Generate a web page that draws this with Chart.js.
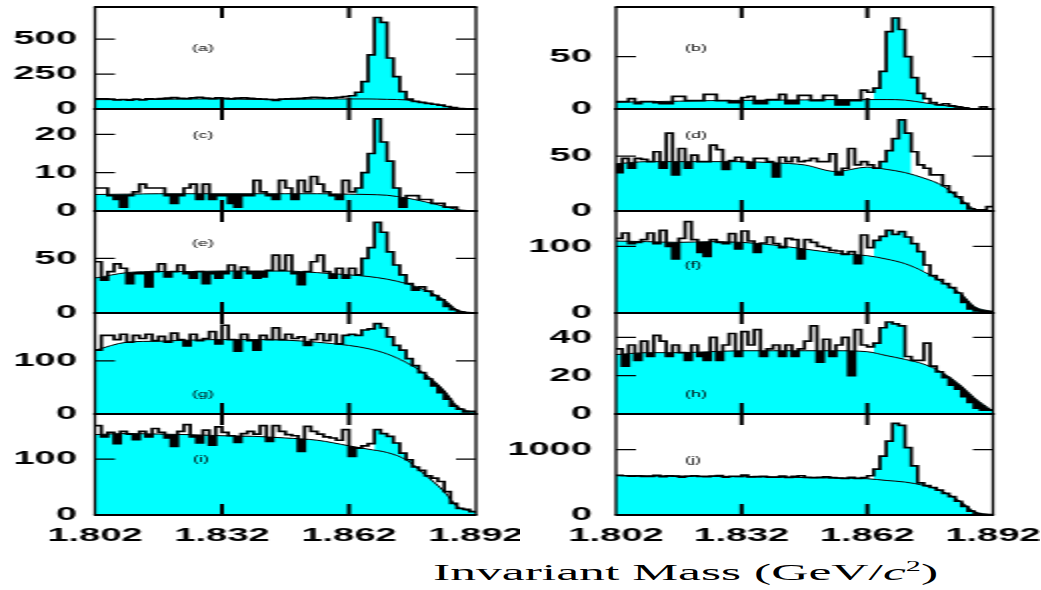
<!DOCTYPE html>
<html>
<head>
<meta charset="utf-8">
<script src="https://cdn.jsdelivr.net/npm/chart.js@4.4.0/dist/chart.umd.min.js"></script>
<style>
    body { margin: 0; background: #fff; width: 1041px; height: 590px; overflow: hidden; position: relative; }
    canvas { position: absolute; }
    #xtitle {
        position: absolute; left: 433px; top: 559px;
        font: 24px "Liberation Serif", "Times New Roman", serif;
        transform: scaleX(2.15); transform-origin: 0 0; white-space: nowrap; color: #000;
    }
</style>
</head>
<body>
<div id="xtitle">Invariant Mass (GeV/<i>c</i><sup style="font-size:14px">2</sup>)</div>
<script>
// histogram binning: 60 bins of 1.5 MeV from 1.802 to 1.892
const massLo = 1.802;
const binWidth = 0.0015;
const xTickVals = [1.802, 1.832, 1.862, 1.892];

const bkgX = [1.802, 1.8095, 1.817, 1.8245, 1.832, 1.8395, 1.847, 1.8545, 1.862, 1.8665, 1.871, 1.8755, 1.88, 1.8845, 1.8875, 1.892];

// (a)
const dataA = [72,72,70,66,68,64,70,66,72,70, 74,78,82,76,74,80,84,78,74,80, 76,72,78,80,76,72,70,68,62,70,
               72,74,76,80,84,82,78,80,84,88, 95,120,196,387,655,620,365,232,124,70, 55,48,40,34,28,18,10,3,0,0];
const bkgA = [67,67,69,72,72,69,69,72,72,72,69,65,43,22,2,0];
// (b)
const dataB = [7,7,10,5,7,7,6,5,5,12, 12,8,8,8,14,14,8,8,6,6, 11,12,5,5,9,9,14,5,5,13,
               13,8,8,13,13,4,4,8,8,18, 16,20,36,74,87,76,50,30,15,10, 6,4,5,3,2,1,0,0,2,0];
const bkgB = [6.5,7,7.5,8,8.3,8.5,8.7,9,9,9,8.5,6,3.5,1.3,0.3,0];
// (c)
const dataC = [6,6,4,3,1,4,5,7,6,6, 6,4,2,4,6,7,3,7,3,4, 4,2,1,4,4,8,5,4,3,8,
               6,3,8,5,9,7,5,4,3,8, 5,6,10,15,24,18,13,6,1,4, 4,3,3,2,2,1,1,0,0,0];
const bkgC = [4.3,4.4,4.5,4.5,4.5,4.5,4.5,4.5,4.4,4.3,4.1,3.4,2.4,1.2,0.4,0];
// (d)
const dataD = [35,48,39,48,47,45,54,39,71,33, 57,39,51,45,45,60,56,38,46,49, 45,39,48,48,45,31,49,45,49,45,
               46,48,45,45,52,33,39,57,42,45, 42,39,45,55,66,83,71,54,42,39, 33,33,23,17,13,7,2,1,1,4];
const bkgD = [43,45,45,45,45,44,42,36,40,38,35,30,23,10,2,0];
// (e)
const dataE = [47,30,38,45,41,27,36,36,24,38, 45,33,38,44,36,32,38,27,36,32, 36,44,32,42,36,32,33,39,53,39,
               53,36,26,38,47,53,38,32,41,32, 41,35,50,60,83,74,56,44,35,27, 21,24,20,16,12,6,3,1,0,0];
const bkgE = [32,37,38,38,38.5,38.5,38.5,37,35,33.5,31,27,21,12,3,0];
// (f)
const dataF = [112,120,104,106,110,120,104,124,100,81, 112,137,110,91,85,110,106,104,119,96,
               123,108,91,105,114,104,98,112,110,81, 110,106,100,98,94,93,88,92,74,117,
               98,109,115,124,118,122,114,104,92,72, 56,50,44,38,30,16,6,3,2,2];
const bkgF = [108,107,106,107,106,102,96,90,86,81,74,62,46,28,10,2];
// (g)
const dataG = [120,148,148,140,150,135,148,142,150,138, 146,135,152,140,128,150,138,142,155,132,
               167,140,118,150,138,120,148,140,162,140, 150,142,145,129,140,151,138,150,132,148,
               150,148,158,160,170,162,145,129,120,104, 91,78,66,53,40,28,15,9,4,5];
const bkgG = [120,135,137,139,140,140,139,135,129,123,113,97,75,44,15,2];
// (h)
const dataH = [34,25,36,28,38,30,41,38,30,36, 32,28,36,30,28,40,28,36,42,30, 43,36,44,30,34,36,30,36,30,34,
               38,46,27,39,30,36,40,20,44,36, 35,37,45,48,47,46,30,28,28,37, 25,22,19,15,13,9,6,3,2,2];
const bkgH = [31,32,32,32.5,33,33,33,33,32.5,30.5,28.5,26,21.5,14.5,8.5,1.5];
// (i)
const dataI = [160,140,148,128,150,145,135,150,140,155, 148,138,123,150,162,140,129,152,125,158,
               148,142,130,146,150,145,160,132,160,150, 144,142,114,159,150,145,140,138,134,153,
               105,120,124,128,153,146,141,129,111,99, 86,80,70,66,60,42,21,12,10,6];
const bkgI = [144,146,145,144,142,141,138,134,124,118,112,99,72,42,16,5];
// (j)
const dataJ = [605,600,595,598,590,590,605,585,598,595, 580,592,600,588,585,596,603,578,592,590,
               610,582,585,592,580,578,595,575,590,600, 576,570,575,582,572,565,560,575,560,570,
               600,700,900,1130,1400,1370,1030,750,490,450, 420,380,330,280,210,130,60,15,5,5];
const bkgJ = [605,598,595,592,585,580,572,565,554,528,503,451,359,195,56,0];

const CYAN = '#00ffff';
const STRETCH = 2;   // the figure is drawn narrow and stretched sideways, like the scan
const tickFont = {family: '"Liberation Sans", Arial, sans-serif', size: 19, weight: 'bold'};

const rowTop = [7, 109, 211, 313, 414];
const rowBottom = [109, 211, 313, 414, 515];
const cols = [
    {left: 0, width: 520, plotLeft: 95, plotRight: 476, labelGap: 18},
    {left: 500, width: 540, plotLeft: 616, plotRight: 993, labelGap: 24}
];

const panels = [
    {letter: '(a)', col: 0, row: 0, data: dataA, bkg: bkgA, sig: [40, 48], yMax: 730, yTicks: [0, 250, 500], lx: 108, ly: 42},
    {letter: '(c)', col: 0, row: 1, data: dataC, bkg: bkgC, sig: [41, 47], yMax: 26.6, yTicks: [0, 10, 20], lx: 108, ly: 27},
    {letter: '(e)', col: 0, row: 2, data: dataE, bkg: bkgE, sig: [41, 48], yMax: 93.5, yTicks: [0, 50], lx: 108, ly: 33},
    {letter: '(g)', col: 0, row: 3, data: dataG, bkg: bkgG, sig: [39, 50], yMax: 190, yTicks: [0, 100], lx: 108, ly: 82},
    {letter: '(i)', col: 0, row: 4, data: dataI, bkg: bkgI, sig: [44, 49], yMax: 181, yTicks: [0, 100], lx: 106, ly: 46},
    {letter: '(b)', col: 1, row: 0, data: dataB, bkg: bkgB, sig: [41, 48], yMax: 97.5, yTicks: [0, 50], lx: 80, ly: 42},
    {letter: '(d)', col: 1, row: 1, data: dataD, bkg: bkgD, sig: [42, 46], yMax: 93, yTicks: [0, 50], lx: 80, ly: 27},
    {letter: '(f)', col: 1, row: 2, data: dataF, bkg: bkgF, sig: [41, 48], yMax: 153, yTicks: [0, 100], lx: 77, ly: 55},
    {letter: '(h)', col: 1, row: 3, data: dataH, bkg: bkgH, sig: [41, 45], yMax: 52.7, yTicks: [0, 20, 40], lx: 80, ly: 82},
    {letter: '(j)', col: 1, row: 4, data: dataJ, bkg: bkgJ, sig: [41, 48], yMax: 1543, yTicks: [0, 1000], lx: 77, ly: 47}
];

const binEdges = [];
for (let i = 0; i <= 60; i++) binEdges.push(+(massLo + i * binWidth).toFixed(4));

// histogram as a step line: left edge of every bin, plus the closing right edge
function stepPoints(vals, lo, hi) {
    const pts = [];
    for (let i = lo; i <= hi; i++) pts.push({x: binEdges[i], y: vals[i]});
    pts.push({x: binEdges[hi + 1], y: vals[hi]});
    return pts;
}

function bkgPoints(vals) {
    return bkgX.map((x, i) => ({x: x, y: vals[i]}));
}

// frame, inner tick marks and the panel letter
const framePlugin = {
    id: 'frame',
    afterDatasetsDraw(chart, args, opts) {
        const {ctx, chartArea: a, scales: {x, y}} = chart;
        ctx.save();
        ctx.strokeStyle = '#000';

        ctx.lineWidth = 1.3;
        ctx.beginPath();
        y.ticks.forEach(t => {
            if (t.value <= 0) return;
            const py = y.getPixelForValue(t.value);
            ctx.moveTo(a.left, py); ctx.lineTo(a.left + 10, py);
            ctx.moveTo(a.right, py); ctx.lineTo(a.right - 10, py);
        });
        ctx.moveTo(a.left, a.top); ctx.lineTo(a.left, a.bottom);
        ctx.moveTo(a.right, a.top); ctx.lineTo(a.right, a.bottom);
        ctx.stroke();

        ctx.lineWidth = 2;
        ctx.beginPath();
        xTickVals.slice(1, -1).forEach(v => {
            const px = x.getPixelForValue(v);
            ctx.moveTo(px, a.top); ctx.lineTo(px, a.top + 11);
            ctx.moveTo(px, a.bottom); ctx.lineTo(px, a.bottom - 11);
        });
        ctx.moveTo(a.left - 0.6, a.top); ctx.lineTo(a.right + 0.6, a.top);
        ctx.moveTo(a.left - 0.6, a.bottom); ctx.lineTo(a.right + 0.6, a.bottom);
        ctx.stroke();

        ctx.fillStyle = '#000';
        ctx.font = '9px "Liberation Sans", Arial, sans-serif';
        ctx.textAlign = 'center';
        ctx.textBaseline = 'middle';
        ctx.fillText(opts.letter, a.left + opts.lx / STRETCH, a.top + opts.ly);
        ctx.restore();
    }
};

panels.forEach(p => {
    const col = cols[p.col];
    const isBottom = p.row === 4;
    const padTop = 16;
    const xAxisH = isBottom ? 40 : 0;
    const padBottom = isBottom ? 20 : 16;
    const plotH = rowBottom[p.row] - rowTop[p.row];
    const cv = document.createElement('canvas');
    cv.width = col.width / STRETCH;
    cv.height = plotH + padTop + padBottom + xAxisH;
    cv.style.width = col.width + 'px';
    cv.style.height = cv.height + 'px';
    cv.style.left = col.left + 'px';
    cv.style.top = (rowTop[p.row] - padTop) + 'px';
    document.body.appendChild(cv);

    const plotLeft = (col.plotLeft - col.left) / STRETCH;
    const plotRight = (col.plotRight - col.left) / STRETCH;

    new Chart(cv, {
        type: 'line',
        data: {
            datasets: [
                {   // measured histogram, black where it falls below the fit
                    data: stepPoints(p.data, 0, 59),
                    stepped: true,
                    borderColor: '#000',
                    borderWidth: 1.7,
                    pointRadius: 0,
                    fill: {target: 3, above: 'rgba(0,0,0,0)', below: '#000'}
                },
                {   // background fit curve
                    data: bkgPoints(p.bkg),
                    cubicInterpolationMode: 'monotone',
                    borderColor: '#000',
                    borderWidth: 1,
                    pointRadius: 0,
                    fill: false
                },
                {   // signal bins, filled above the fit
                    data: stepPoints(p.data, p.sig[0], p.sig[1]),
                    stepped: true,
                    borderColor: 'rgba(0,0,0,0)',
                    borderWidth: 1,
                    pointRadius: 0,
                    fill: {target: 3, above: CYAN, below: 'rgba(0,0,0,0)'}
                },
                {   // area under the fit
                    data: bkgPoints(p.bkg),
                    cubicInterpolationMode: 'monotone',
                    borderColor: 'rgba(0,0,0,0)',
                    borderWidth: 1,
                    pointRadius: 0,
                    backgroundColor: CYAN,
                    fill: 'origin'
                }
            ]
        },
        options: {
            responsive: false,
            animation: false,
            devicePixelRatio: 1,
            events: [],
            layout: {padding: {top: padTop, bottom: padBottom, left: 0, right: cv.width - plotRight}},
            plugins: {
                legend: {display: false},
                tooltip: {enabled: false},
                frame: {letter: p.letter, lx: p.lx, ly: p.ly}
            },
            scales: {
                x: {
                    type: 'linear', min: 1.802, max: 1.892,
                    display: true,
                    grid: {display: false, drawTicks: false},
                    border: {display: false},
                    afterBuildTicks: s => { s.ticks = xTickVals.map(v => ({value: v})); },
                    afterFit: s => { s.height = xAxisH; s.paddingLeft = 0; s.paddingRight = 0; },
                    ticks: {
                        display: isBottom, autoSkip: false, maxRotation: 0, minRotation: 0, padding: 9,
                        color: '#000', font: tickFont,
                        callback: v => Number(v).toFixed(3)
                    }
                },
                y: {
                    min: 0, max: p.yMax,
                    grid: {display: false, drawTicks: false},
                    border: {display: false},
                    afterBuildTicks: s => { s.ticks = p.yTicks.map(v => ({value: v})); },
                    afterFit: s => { s.width = plotLeft; s.paddingTop = 0; s.paddingBottom = 0; },
                    ticks: {
                        autoSkip: false, padding: col.labelGap / STRETCH,
                        color: '#000', font: tickFont,
                        callback: v => String(v)
                    }
                }
            }
        },
        plugins: [framePlugin]
    });
});
</script>
</body>
</html>
